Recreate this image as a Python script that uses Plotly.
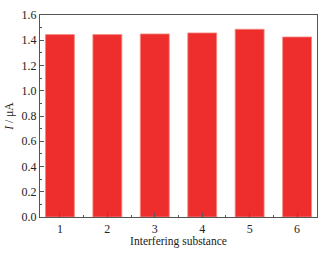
import plotly.graph_objects as go

categories = [1, 2, 3, 4, 5, 6]
current = [1.445, 1.445, 1.45, 1.458, 1.487, 1.426]
y_ticks = [0.0, 0.2, 0.4, 0.6, 0.8, 1.0, 1.2, 1.4, 1.6]

fig = go.Figure(go.Bar(
    x=categories, y=current, width=0.61,
    marker=dict(color="#EE2D2D", line=dict(color="#F58A80", width=0.8)),
))

font = dict(family="Liberation Serif, Times New Roman, serif", size=12, color="#222")
title_font = dict(family="Liberation Serif, Times New Roman, serif", size=11.5, color="#222")
axis_common = dict(showline=True, linecolor="#555", linewidth=1.2, mirror=True,
                   ticks="inside", tickcolor="#555", ticklen=4, showgrid=False,
                   zeroline=False, tickfont=font, automargin=False)

fig.update_layout(
    width=331, height=258,
    margin=dict(l=40, r=14, t=15, b=41),
    plot_bgcolor="white", paper_bgcolor="white",
    showlegend=False,
    font=font,
    xaxis=dict(range=[0.58, 6.42], tickmode="array", tickvals=categories,
               ticktext=[str(c) for c in categories],
               title=dict(text="Interfering substance", font=title_font, standoff=2),
               minor=dict(ticks="inside", tick0=0.5, dtick=1, ticklen=2, tickcolor="#555"),
               **axis_common),
    yaxis=dict(range=[0, 1.6], tickmode="array", tickvals=y_ticks,
               ticktext=[f"{v:.1f}" for v in y_ticks],
               title=dict(text="<i>I</i> / μA", font=title_font, standoff=5),
               minor=dict(ticks="inside", tick0=0, dtick=0.1, ticklen=2, tickcolor="#555"),
               **axis_common),
)

fig.write_html("out.html", config={"displayModeBar": False},
               post_script="document.body.style.margin='0';document.body.style.padding='0';")
